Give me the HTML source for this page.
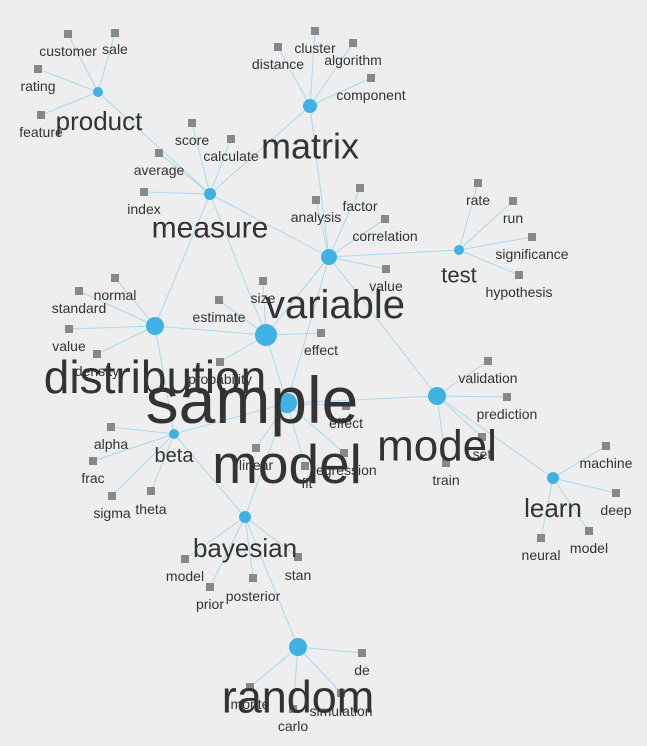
<!DOCTYPE html>
<html><head><meta charset="utf-8"><style>
html,body{margin:0;padding:0;background:#eeeeee;}
svg{display:block;font-family:"Liberation Sans",sans-serif;}
text{fill:#333;text-anchor:middle;dominant-baseline:central;}
line{stroke:#a9d9ef;stroke-width:1;}
.h{fill:#3fb1e3;}
.s{fill:#888;}
</style></head><body>
<svg width="647" height="746" viewBox="0 0 647 746">
<g>
<line x1="98" y1="92" x2="210" y2="194"/>
<line x1="210" y1="194" x2="310" y2="106"/>
<line x1="210" y1="194" x2="329" y2="257"/>
<line x1="210" y1="194" x2="155" y2="326"/>
<line x1="210" y1="194" x2="266" y2="335"/>
<line x1="329" y1="257" x2="310" y2="106"/>
<line x1="329" y1="257" x2="459" y2="250"/>
<line x1="329" y1="257" x2="266" y2="335"/>
<line x1="329" y1="257" x2="287" y2="403"/>
<line x1="329" y1="257" x2="437" y2="396"/>
<line x1="266" y1="335" x2="155" y2="326"/>
<line x1="266" y1="335" x2="287" y2="403"/>
<line x1="155" y1="326" x2="174" y2="434"/>
<line x1="287" y1="403" x2="174" y2="434"/>
<line x1="287" y1="403" x2="437" y2="396"/>
<line x1="287" y1="403" x2="245" y2="517"/>
<line x1="174" y1="434" x2="245" y2="517"/>
<line x1="245" y1="517" x2="298" y2="647"/>
<line x1="437" y1="396" x2="553" y2="478"/>
<line x1="98" y1="92" x2="68" y2="34"/><line x1="98" y1="92" x2="115" y2="33"/><line x1="98" y1="92" x2="38" y2="69"/><line x1="98" y1="92" x2="41" y2="115"/>
<line x1="310" y1="106" x2="315" y2="31"/><line x1="310" y1="106" x2="278" y2="47"/><line x1="310" y1="106" x2="353" y2="43"/><line x1="310" y1="106" x2="371" y2="78"/>
<line x1="210" y1="194" x2="192" y2="123"/><line x1="210" y1="194" x2="231" y2="139"/><line x1="210" y1="194" x2="159" y2="153"/><line x1="210" y1="194" x2="144" y2="192"/>
<line x1="329" y1="257" x2="316" y2="200"/><line x1="329" y1="257" x2="360" y2="188"/><line x1="329" y1="257" x2="385" y2="219"/><line x1="329" y1="257" x2="386" y2="269"/>
<line x1="459" y1="250" x2="478" y2="183"/><line x1="459" y1="250" x2="513" y2="201"/><line x1="459" y1="250" x2="532" y2="237"/><line x1="459" y1="250" x2="519" y2="275"/>
<line x1="266" y1="335" x2="263" y2="281"/><line x1="266" y1="335" x2="219" y2="300"/><line x1="266" y1="335" x2="321" y2="333"/><line x1="266" y1="335" x2="220" y2="362"/>
<line x1="155" y1="326" x2="115" y2="278"/><line x1="155" y1="326" x2="79" y2="291"/><line x1="155" y1="326" x2="69" y2="329"/><line x1="155" y1="326" x2="97" y2="354"/>
<line x1="287" y1="403" x2="346" y2="406"/><line x1="287" y1="403" x2="256" y2="448"/><line x1="287" y1="403" x2="305" y2="466"/><line x1="287" y1="403" x2="344" y2="453"/>
<line x1="437" y1="396" x2="488" y2="361"/><line x1="437" y1="396" x2="507" y2="397"/><line x1="437" y1="396" x2="482" y2="437"/><line x1="437" y1="396" x2="446" y2="463"/>
<line x1="174" y1="434" x2="111" y2="427"/><line x1="174" y1="434" x2="93" y2="461"/><line x1="174" y1="434" x2="112" y2="496"/><line x1="174" y1="434" x2="151" y2="491"/>
<line x1="245" y1="517" x2="185" y2="559"/><line x1="245" y1="517" x2="210" y2="587"/><line x1="245" y1="517" x2="253" y2="578"/><line x1="245" y1="517" x2="298" y2="557"/>
<line x1="298" y1="647" x2="362" y2="653"/><line x1="298" y1="647" x2="250" y2="687"/><line x1="298" y1="647" x2="293" y2="709"/><line x1="298" y1="647" x2="341" y2="693"/>
<line x1="553" y1="478" x2="606" y2="446"/><line x1="553" y1="478" x2="616" y2="493"/><line x1="553" y1="478" x2="589" y2="531"/><line x1="553" y1="478" x2="541" y2="538"/>
</g>
<g class="s">
<rect x="64" y="30" width="8" height="8"/><rect x="111" y="29" width="8" height="8"/><rect x="34" y="65" width="8" height="8"/><rect x="37" y="111" width="8" height="8"/>
<rect x="311" y="27" width="8" height="8"/><rect x="274" y="43" width="8" height="8"/><rect x="349" y="39" width="8" height="8"/><rect x="367" y="74" width="8" height="8"/>
<rect x="188" y="119" width="8" height="8"/><rect x="227" y="135" width="8" height="8"/><rect x="155" y="149" width="8" height="8"/><rect x="140" y="188" width="8" height="8"/>
<rect x="312" y="196" width="8" height="8"/><rect x="356" y="184" width="8" height="8"/><rect x="381" y="215" width="8" height="8"/><rect x="382" y="265" width="8" height="8"/>
<rect x="474" y="179" width="8" height="8"/><rect x="509" y="197" width="8" height="8"/><rect x="528" y="233" width="8" height="8"/><rect x="515" y="271" width="8" height="8"/>
<rect x="259" y="277" width="8" height="8"/><rect x="215" y="296" width="8" height="8"/><rect x="317" y="329" width="8" height="8"/><rect x="216" y="358" width="8" height="8"/>
<rect x="111" y="274" width="8" height="8"/><rect x="75" y="287" width="8" height="8"/><rect x="65" y="325" width="8" height="8"/><rect x="93" y="350" width="8" height="8"/>
<rect x="342" y="402" width="8" height="8"/><rect x="252" y="444" width="8" height="8"/><rect x="301" y="462" width="8" height="8"/><rect x="340" y="449" width="8" height="8"/>
<rect x="484" y="357" width="8" height="8"/><rect x="503" y="393" width="8" height="8"/><rect x="478" y="433" width="8" height="8"/><rect x="442" y="459" width="8" height="8"/>
<rect x="107" y="423" width="8" height="8"/><rect x="89" y="457" width="8" height="8"/><rect x="108" y="492" width="8" height="8"/><rect x="147" y="487" width="8" height="8"/>
<rect x="181" y="555" width="8" height="8"/><rect x="206" y="583" width="8" height="8"/><rect x="249" y="574" width="8" height="8"/><rect x="294" y="553" width="8" height="8"/>
<rect x="358" y="649" width="8" height="8"/><rect x="246" y="683" width="8" height="8"/><rect x="289" y="705" width="8" height="8"/><rect x="337" y="689" width="8" height="8"/>
<rect x="602" y="442" width="8" height="8"/><rect x="612" y="489" width="8" height="8"/><rect x="585" y="527" width="8" height="8"/><rect x="537" y="534" width="8" height="8"/>
</g>
<g class="h">
<circle cx="98" cy="92" r="5"/><circle cx="310" cy="106" r="7"/><circle cx="210" cy="194" r="6"/>
<circle cx="329" cy="257" r="8"/><circle cx="459" cy="250" r="5"/><circle cx="155" cy="326" r="9"/>
<circle cx="266" cy="335" r="11"/><circle cx="287" cy="403" r="10"/><circle cx="437" cy="396" r="9"/>
<circle cx="174" cy="434" r="5"/><circle cx="245" cy="517" r="6"/><circle cx="298" cy="647" r="9"/><circle cx="553" cy="478" r="6"/>
</g>
<g font-size="14">
<text x="68" y="51">customer</text><text x="115" y="49">sale</text><text x="38" y="86">rating</text><text x="41" y="132">feature</text>
<text x="315" y="48">cluster</text><text x="278" y="64">distance</text><text x="353" y="60">algorithm</text><text x="371" y="95">component</text>
<text x="192" y="140">score</text><text x="231" y="156">calculate</text><text x="159" y="170">average</text><text x="144" y="209">index</text>
<text x="316" y="217">analysis</text><text x="360" y="206">factor</text><text x="385" y="236">correlation</text><text x="386" y="286">value</text>
<text x="478" y="200">rate</text><text x="513" y="218">run</text><text x="532" y="254">significance</text><text x="519" y="292">hypothesis</text>
<text x="263" y="298">size</text><text x="219" y="317">estimate</text><text x="321" y="350">effect</text><text x="220" y="379">probability</text>
<text x="115" y="295">normal</text><text x="79" y="308">standard</text><text x="69" y="346">value</text><text x="97" y="371">density</text>
<text x="346" y="423">effect</text><text x="256" y="465">linear</text><text x="307" y="483">fit</text><text x="344" y="470">regression</text>
<text x="488" y="378">validation</text><text x="507" y="414">prediction</text><text x="482" y="454">set</text><text x="446" y="480">train</text>
<text x="111" y="444">alpha</text><text x="93" y="478">frac</text><text x="112" y="513">sigma</text><text x="151" y="509">theta</text>
<text x="185" y="576">model</text><text x="210" y="604">prior</text><text x="253" y="596">posterior</text><text x="298" y="575">stan</text>
<text x="362" y="670">de</text><text x="250" y="704">monte</text><text x="293" y="726">carlo</text><text x="341" y="711">simulation</text>
<text x="606" y="463">machine</text><text x="616" y="510">deep</text><text x="589" y="548">model</text><text x="541" y="555">neural</text>
</g>
<text x="99" y="121" font-size="26">product</text>
<text x="310" y="146" font-size="36">matrix</text>
<text x="210" y="228" font-size="30">measure</text>
<text x="459" y="275" font-size="22">test</text>
<text x="335" y="305" font-size="40">variable</text>
<text x="155" y="377" font-size="46">distribution</text>
<text x="252" y="400" font-size="66">sample</text>
<text x="287" y="464" font-size="55">model</text>
<text x="437" y="446" font-size="44">model</text>
<text x="174" y="456" font-size="20">beta</text>
<text x="245" y="548" font-size="26">bayesian</text>
<text x="298" y="697" font-size="45">random</text>
<text x="553" y="508" font-size="26">learn</text>
</svg>
</body></html>
